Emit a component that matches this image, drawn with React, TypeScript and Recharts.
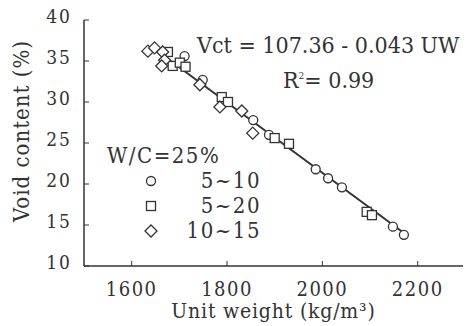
import React from 'react';
import { ScatterChart, Scatter, XAxis, YAxis, Legend, Label, Customized } from 'recharts';

// unit weight (kg/m3) vs void content (%)
const size5to10 = [
  { x: 1711, y: 35.6 },
  { x: 1749, y: 32.7 },
  { x: 1855, y: 27.8 },
  { x: 1888, y: 26.0 },
  { x: 1986, y: 21.8 },
  { x: 2012, y: 20.7 },
  { x: 2041, y: 19.6 },
  { x: 2148, y: 14.8 },
  { x: 2171, y: 13.8 },
];

const size5to20 = [
  { x: 1676, y: 36.1 },
  { x: 1686, y: 34.4 },
  { x: 1701, y: 34.8 },
  { x: 1713, y: 34.3 },
  { x: 1789, y: 30.6 },
  { x: 1802, y: 30.0 },
  { x: 1900, y: 25.6 },
  { x: 1930, y: 24.9 },
  { x: 2093, y: 16.6 },
  { x: 2104, y: 16.2 },
];

const size10to15 = [
  { x: 1634, y: 36.2 },
  { x: 1648, y: 36.6 },
  { x: 1665, y: 36.1 },
  { x: 1669, y: 35.1 },
  { x: 1663, y: 34.4 },
  { x: 1743, y: 32.1 },
  { x: 1785, y: 29.4 },
  { x: 1831, y: 28.9 },
  { x: 1854, y: 26.2 },
];

// regression line end points
const fitLine = [
  { x: 1640, y: 36.8 },
  { x: 2174, y: 13.9 },
];

const xTicks = [1600, 1800, 2000, 2200];
const yTicks = [10, 15, 20, 25, 30, 35, 40];
const legendOrder = ['5~10', '5~20', '10~15'];

const ink = '#333';
const font = 'DejaVu Serif Condensed, DejaVu Serif';

const Circle = ({ cx, cy }: any) => (
  <circle cx={cx} cy={cy} r={4.5} fill="#fff" stroke={ink} strokeWidth={1.3} />
);
const Square = ({ cx, cy }: any) => (
  <rect x={cx - 4.5} y={cy - 4.5} width={9} height={9} fill="#fff" stroke={ink} strokeWidth={1.3} />
);
const Diamond = ({ cx, cy }: any) => (
  <path d={`M${cx},${cy - 6}L${cx + 6},${cy}L${cx},${cy + 6}L${cx - 6},${cy}Z`} fill="#fff" stroke={ink} strokeWidth={1.3} />
);
const NoDot = () => <g />;

const icons: Record<string, React.ReactNode> = {
  '5~10': <circle cx={8} cy={8} r={4.5} fill="#fff" stroke={ink} strokeWidth={1.3} />,
  '5~20': <rect x={3.5} y={3.5} width={9} height={9} fill="#fff" stroke={ink} strokeWidth={1.3} />,
  '10~15': <path d="M8,2L14,8L8,14L2,8Z" fill="#fff" stroke={ink} strokeWidth={1.3} />,
};

const LegendBox = ({ payload }: any) => {
  const items = (payload || [])
    .filter((p: any) => icons[p.value])
    .sort((a: any, b: any) => legendOrder.indexOf(a.value) - legendOrder.indexOf(b.value));
  return (
    <div style={{ fontFamily: font, color: ink, fontSize: 22, lineHeight: '25px' }}>
      <div style={{ letterSpacing: 1.5 }}>W/C=25%</div>
      {items.map((p: any) => (
        <div key={p.value} style={{ display: 'flex', alignItems: 'center' }}>
          <svg width={16} height={16} style={{ marginLeft: 36 }}>{icons[p.value]}</svg>
          <span style={{ width: 102, textAlign: 'right', display: 'inline-block', letterSpacing: 1.5 }}>
            {p.value}
          </span>
        </div>
      ))}
    </div>
  );
};

const Notes = () => (
  <g fontFamily={font} fill={ink}>
    <text x={197} y={53} fontSize={23}>Vct = 107.36 - 0.043 UW</text>
    <text x={283} y={88} fontSize={23}>
      R<tspan fontSize={10} dy={-9}>2</tspan>
      <tspan dy={9}>= 0.99</tspan>
    </text>
    <text x={29} y={131} fontSize={22} letterSpacing={1} textAnchor="middle" transform="rotate(-90, 29, 131)">
      Void content (%)
    </text>
  </g>
);

const axisLine = { stroke: ink, strokeWidth: 1.5 };

export default function App() {
  return (
    <div style={{ position: 'absolute', left: 0, top: 0, background: '#fff', fontFamily: font }}>
      <ScatterChart width={467} height={326} margin={{ top: 20, right: 4, bottom: 0, left: 0 }}>
        <XAxis
          xAxisId="b"
          type="number"
          dataKey="x"
          domain={[1500, 2295]}
          allowDataOverflow
          ticks={xTicks}
          height={60}
          axisLine={axisLine}
          tickLine={{ stroke: ink }}
          tickSize={-5}
          tickMargin={21}
          tick={{ fill: ink, fontSize: 20, fontFamily: font, letterSpacing: 1.5 }}
        >
          <Label
            value="Unit weight (kg/m³)"
            position="insideBottom"
            offset={8}
            style={{ fill: ink, fontSize: 21, fontFamily: font, letterSpacing: 0.8 }}
          />
        </XAxis>
        <XAxis
          xAxisId="t"
          orientation="top"
          type="number"
          dataKey="x"
          domain={[1500, 2295]}
          allowDataOverflow
          ticks={xTicks}
          height={0}
          axisLine={axisLine}
          tickLine={{ stroke: ink }}
          tickSize={-5}
          tick={NoDot}
        />
        <YAxis
          yAxisId="l"
          type="number"
          dataKey="y"
          domain={[10, 40]}
          allowDataOverflow
          ticks={yTicks}
          width={84}
          axisLine={axisLine}
          tickLine={{ stroke: ink }}
          tickSize={-5}
          tickMargin={17}
          tick={{ fill: ink, fontSize: 19, fontFamily: font, letterSpacing: 2, dy: -4 }}
        />
        <YAxis
          yAxisId="r"
          orientation="right"
          type="number"
          dataKey="y"
          domain={[10, 40]}
          allowDataOverflow
          ticks={yTicks}
          width={0}
          axisLine={axisLine}
          tickLine={{ stroke: ink }}
          tickSize={-5}
          tick={NoDot}
        />
        <Scatter
          data={fitLine}
          xAxisId="t"
          yAxisId="r"
          line={{ stroke: ink, strokeWidth: 2 }}
          shape={NoDot}
          legendType="none"
          isAnimationActive={false}
        />
        <Scatter name="5~10" data={size5to10} xAxisId="b" yAxisId="l" shape={Circle} isAnimationActive={false} />
        <Scatter name="5~20" data={size5to20} xAxisId="b" yAxisId="l" shape={Square} isAnimationActive={false} />
        <Scatter name="10~15" data={size10to15} xAxisId="b" yAxisId="l" shape={Diamond} isAnimationActive={false} />
        <Customized component={<Notes />} />
        <Legend
          layout="vertical"
          align="center"
          verticalAlign="middle"
          content={<LegendBox />}
          wrapperStyle={{ position: 'absolute', left: 107, top: 143, width: 170 }}
        />
      </ScatterChart>
    </div>
  );
}
